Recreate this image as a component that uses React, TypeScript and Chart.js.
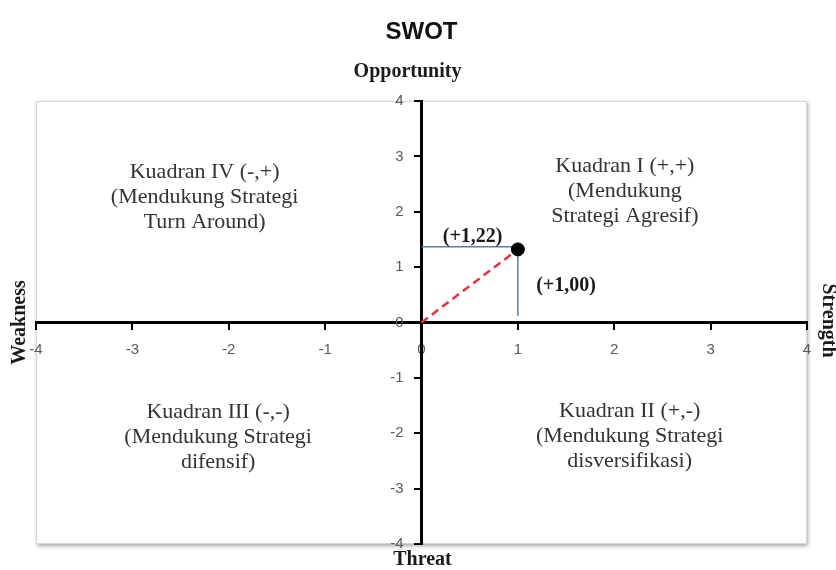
import { useEffect, useRef } from "react";
import { Chart, registerables } from "chart.js";

Chart.register(...registerables);

// ---- data ----
const axisTicks = [-4, -3, -2, -1, 0, 1, 2, 3, 4];
const vectorX = [0, 1.0];
const vectorY = [0, 1.32];
const positionX = [1.0];
const positionY = [1.32];
const guideHX = [0, 1.0];
const guideHY = [1.37, 1.37];
const guideVX = [1.0, 1.0];
const guideVY = [1.32, 0.12];
const quadrantI = ["Kuadran I (+,+)", "(Mendukung", "Strategi Agresif)"];
const quadrantII = ["Kuadran II (+,-)", "(Mendukung Strategi", "disversifikasi)"];
const quadrantIII = ["Kuadran III (-,-)", "(Mendukung Strategi", "difensif)"];
const quadrantIV = ["Kuadran IV (-,+)", "(Mendukung Strategi", "Turn Around)"];
const valueLabels = ["(+1,22)", "(+1,00)"];
const axisTitles = ["Opportunity", "Threat", "Weakness", "Strength"];
const chartTitle = "SWOT";

const toPoints = (xs: number[], ys: number[]) => xs.map((x, i) => ({ x, y: ys[i] }));

const boxPlugin = {
  id: "boxPlugin",
  beforeDraw(chart: any) {
    const { ctx, chartArea: a } = chart;
    ctx.save();
    ctx.fillStyle = "#ffffff";
    ctx.fillRect(0, 0, chart.width, chart.height);
    ctx.shadowColor = "rgba(0,0,0,0.35)";
    ctx.shadowBlur = 4;
    ctx.shadowOffsetX = 1;
    ctx.shadowOffsetY = 2;
    ctx.fillRect(a.left, a.top, a.right - a.left, a.bottom - a.top);
    ctx.shadowColor = "transparent";
    ctx.strokeStyle = "#d6d6d6";
    ctx.lineWidth = 1;
    ctx.strokeRect(a.left + 0.5, a.top + 0.5, a.right - a.left - 1, a.bottom - a.top - 1);
    ctx.restore();
    // move the centred y-axis labels away from the axis line
    const ys = chart.scales.y;
    const items = ys.getLabelItems(a);
    items.forEach((it: any) => {
      if (!it.__shifted) {
        it.options.translation[0] -= 18;
        it.__shifted = true;
      }
    });
  },
};

const textPlugin = {
  id: "textPlugin",
  afterDraw(chart: any) {
    const { ctx, chartArea: a } = chart;
    const xs = chart.scales.x;
    const ys = chart.scales.y;
    ctx.save();
    // quadrant descriptions
    ctx.font = '22px "Liberation Serif", "Times New Roman", serif';
    ctx.fillStyle = "#333333";
    ctx.textAlign = "center";
    ctx.textBaseline = "middle";
    const quads: [string[], number, number][] = [
      [quadrantI, 2.11, 2.37],
      [quadrantII, 2.16, -2.05],
      [quadrantIII, -2.11, -2.08],
      [quadrantIV, -2.25, 2.27],
    ];
    const lh = 25;
    quads.forEach(([lines, qx, qy]) => {
      const cx = xs.getPixelForValue(qx);
      const cy = ys.getPixelForValue(qy);
      lines.forEach((t, i) => {
        ctx.fillText(t, cx, cy + (i - (lines.length - 1) / 2) * lh);
      });
    });
    // value labels
    ctx.font = 'bold 20px "Liberation Serif", "Times New Roman", serif';
    ctx.fillStyle = "#1a1a1a";
    ctx.fillText(valueLabels[0], xs.getPixelForValue(0.53), ys.getPixelForValue(1.54));
    ctx.fillText(valueLabels[1], xs.getPixelForValue(1.5), ys.getPixelForValue(0.66));
    // axis titles
    ctx.font = 'bold 20px "Liberation Serif", "Times New Roman", serif';
    ctx.fillStyle = "#1a1a1a";
    const x0 = xs.getPixelForValue(0);
    const y0 = ys.getPixelForValue(0);
    ctx.fillText(axisTitles[0], x0 - 14, a.top - 29);
    ctx.fillText(axisTitles[1], x0 + 1, a.bottom + 16);
    ctx.save();
    ctx.translate(a.left - 16, y0);
    ctx.rotate(-Math.PI / 2);
    ctx.fillText(axisTitles[2], 0, 0);
    ctx.restore();
    ctx.save();
    ctx.translate(a.right + 21, y0 - 2);
    ctx.rotate(Math.PI / 2);
    ctx.fillText(axisTitles[3], 0, 0);
    ctx.restore();
    ctx.restore();
  },
};

const axisCommon = {
  type: "linear" as const,
  min: -4,
  max: 4,
  afterBuildTicks: (scale: any) => {
    scale.ticks = axisTicks.map((v) => ({ value: v }));
  },
  grid: {
    drawOnChartArea: false,
    drawTicks: true,
    tickLength: 6,
    color: "#000000",
    lineWidth: 2,
  },
  border: { display: true, color: "#000000", width: 3 },
  ticks: {
    color: "#595959",
    padding: 12,
    font: { family: '"Liberation Sans", Arial, sans-serif', size: 15 },
    autoSkip: false,
    maxRotation: 0,
  },
};

export default function App() {
  const ref = useRef<HTMLCanvasElement | null>(null);
  useEffect(() => {
    if (!ref.current) return;
    const chart = new Chart(ref.current, {
      type: "scatter",
      data: {
        datasets: [
          {
            label: "Posisi",
            data: toPoints(positionX, positionY),
            backgroundColor: "#000000",
            borderColor: "#000000",
            pointRadius: 6.5,
            showLine: false,
          },
          {
            label: "Vektor",
            data: toPoints(vectorX, vectorY),
            showLine: true,
            borderColor: "#e8303e",
            borderWidth: 2.5,
            borderDash: [8, 5],
            pointRadius: 0,
          },
          {
            label: "Garis Y",
            data: toPoints(guideHX, guideHY),
            showLine: true,
            borderColor: "#5b7aa8",
            borderWidth: 1.5,
            pointRadius: 0,
          },
          {
            label: "Garis X",
            data: toPoints(guideVX, guideVY),
            showLine: true,
            borderColor: "#5b7aa8",
            borderWidth: 1.5,
            pointRadius: 0,
          },
        ],
      },
      options: {
        animation: false,
        responsive: false,
        devicePixelRatio: 1,
        layout: { padding: { left: 36, right: 29, top: 0, bottom: 26 } },
        plugins: {
          legend: { display: false },
          tooltip: { enabled: false },
          title: {
            display: true,
            text: chartTitle,
            color: "#111111",
            font: { family: '"Liberation Sans Narrow", "Liberation Sans", Arial, sans-serif', size: 24, weight: "bold", lineHeight: 1.2 },
            padding: { top: 17.6, bottom: 54.6 },
          },
        },
        scales: {
          x: { ...axisCommon, position: { y: 0 } } as any,
          y: { ...axisCommon, position: { x: 0 } } as any,
        },
      },
      plugins: [boxPlugin, textPlugin],
    });
    return () => chart.destroy();
  }, []);
  return (
    <div style={{ position: "absolute", left: 0, top: 0, width: 836, height: 570, background: "#fff" }}>
      <canvas ref={ref} width={836} height={570} style={{ display: "block" }} />
    </div>
  );
}
